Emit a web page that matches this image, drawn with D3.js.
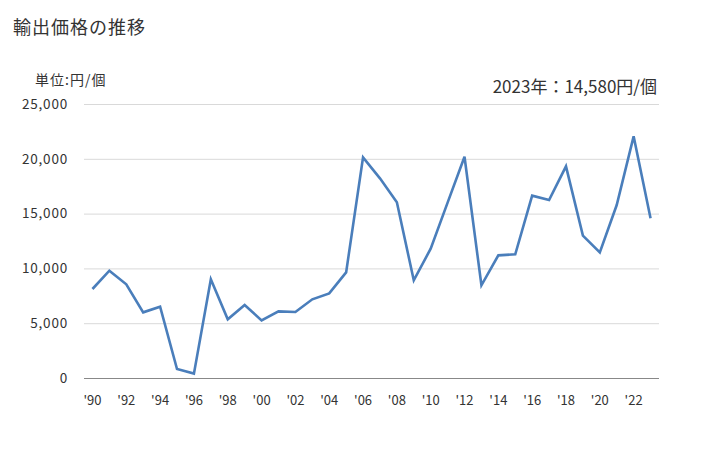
<!DOCTYPE html>
<html><head><meta charset="utf-8">
<script src="https://cdn.jsdelivr.net/npm/d3@7"></script>
<style>
body{margin:0;background:#fff;}
text{font-family:"Noto Sans CJK JP","Noto Sans",sans-serif;fill:#333;}
</style></head>
<body><svg id="c" width="728" height="450"></svg>
<script>
const years = d3.range(1990, 2024);
const values = [8120, 9790, 8550, 5990, 6510, 820, 400, 9000, 5350, 6660,
  5260, 6080, 6020, 7180, 7720, 9640, 20130, 18220, 16030, 8910,
  11800, 16000, 20190, 8460, 11190, 11290, 16640, 16240, 19310, 12990,
  11460, 15780, 22050, 14580];
const yTicks = [0, 5000, 10000, 15000, 20000, 25000];
const xTickYears = d3.range(1990, 2024, 2);
const titleText = "輸出価格の推移";
const unitText = "単位:円/個";
const noteText = "2023年：14,580円/個";

const svg = d3.select("#c");
const mLeft = 84, mRight = 659, mTop = 104, mBottom = 378;
const x = d3.scaleBand().domain(years).range([mLeft, mRight]);
const y = d3.scaleLinear().domain([0, 25000]).range([mBottom, mTop]);

svg.append("text").attr("x", 13).attr("y", 34).style("font-size", "18px").style("letter-spacing", "1px").text(titleText);
svg.append("text").attr("x", 35).attr("y", 85).style("font-size", "14px").style("letter-spacing", "1px").text(unitText);
svg.append("text").attr("x", 657).attr("y", 93).attr("text-anchor", "end").style("font-size", "17px").text(noteText);

const yAxis = svg.append("g").attr("transform", `translate(${mLeft},0)`)
  .call(d3.axisLeft(y).tickValues(yTicks).tickSize(-(mRight - mLeft)).tickPadding(16)
    .tickFormat(d3.format(",")));
yAxis.select(".domain").remove();
yAxis.selectAll(".tick line").attr("stroke", d => d === 0 ? "#888" : "#d9d9d9");
yAxis.selectAll(".tick text").style("font-size", "13.5px").style("letter-spacing", "0.8px")
  .style("font-family", "'Noto Sans CJK JP'").attr("fill", "#333");

const xAxis = svg.append("g").attr("transform", `translate(0,${mBottom})`)
  .call(d3.axisBottom(x).tickValues(xTickYears).tickSize(0).tickPadding(18)
    .tickFormat(d => "'" + String(d).slice(2)));
xAxis.select(".domain").remove();
xAxis.selectAll(".tick text").style("font-size", "13px").style("font-family", "'Noto Sans CJK JP'").attr("fill", "#333");

const line = d3.line().x((d, i) => x(years[i]) + x.bandwidth() / 2).y(d => y(d));
svg.append("path").datum(values).attr("d", line)
  .attr("fill", "none").attr("stroke", "#4a7ebb").attr("stroke-width", 2.6)
  .attr("stroke-linejoin", "miter");
</script></body></html>
